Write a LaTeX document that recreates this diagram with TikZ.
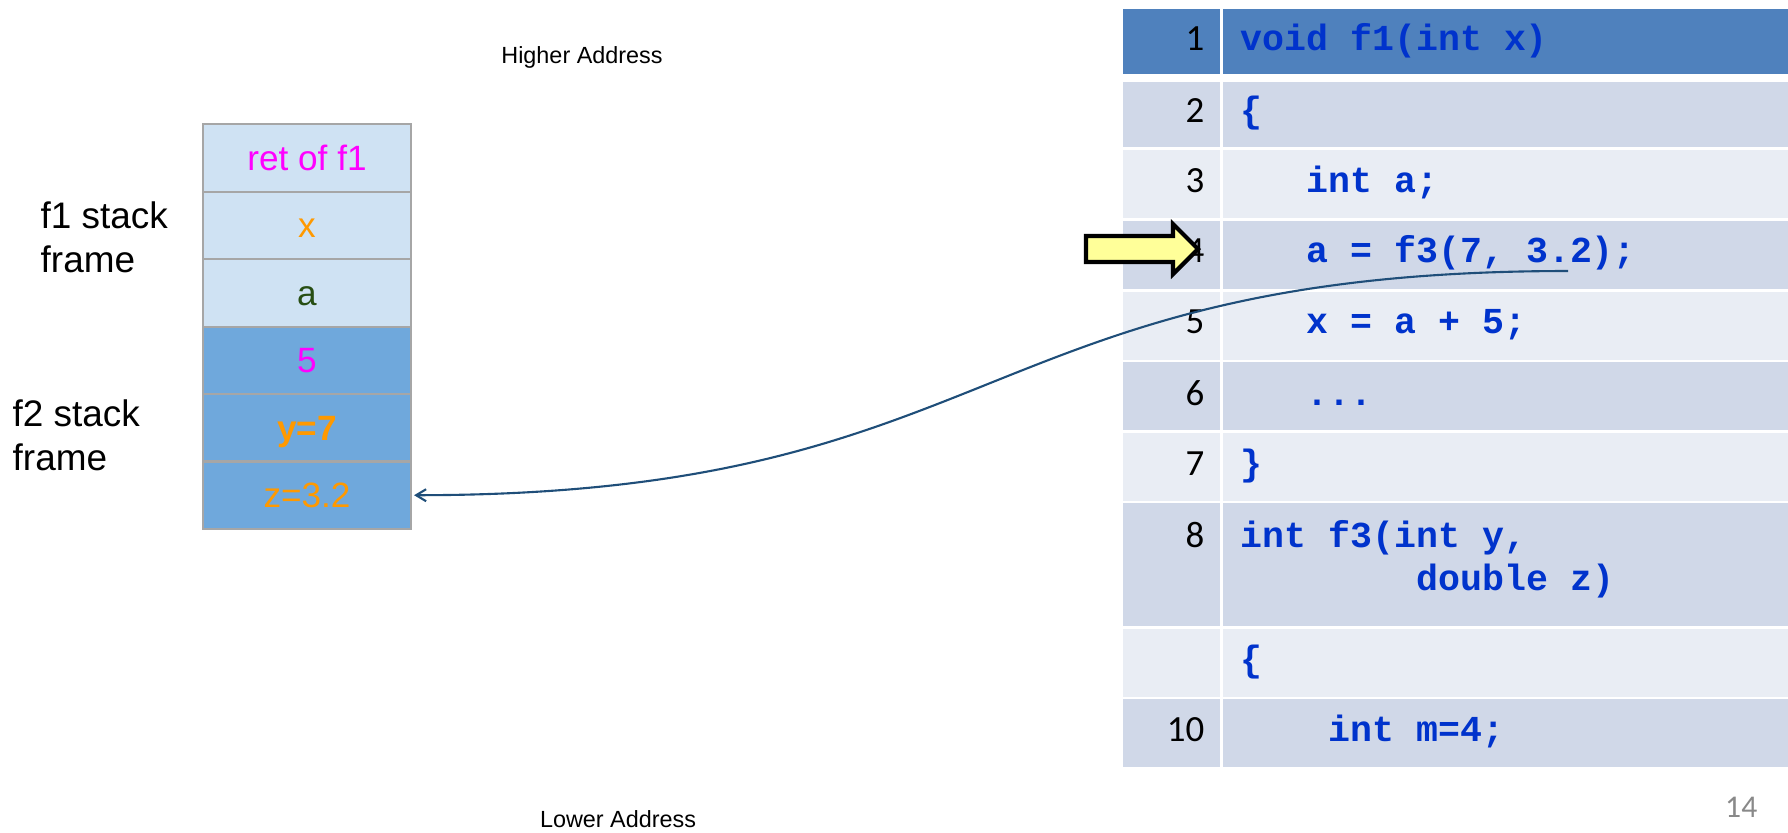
\documentclass[tikz,border=0pt]{standalone}
\usepackage{fontspec}
\setmainfont{Liberation Sans}
\newfontfamily\codefont{Liberation Mono}
\newfontfamily\numfont{Carlito}
\usetikzlibrary{arrows.meta, positioning}
\definecolor{hdr}{HTML}{4F81BD}
\definecolor{rowd}{HTML}{D0D8E8}
\definecolor{rowl}{HTML}{E9EDF4}
\definecolor{codeblue}{HTML}{0033CC}
\definecolor{stkl}{HTML}{CFE2F3}
\definecolor{stkd}{HTML}{6FA8DC}
\definecolor{stkb}{HTML}{A6A6A6}
\definecolor{mag}{HTML}{FF00FF}
\definecolor{org}{HTML}{FF9900}
\definecolor{grn}{HTML}{274E13}
\definecolor{curv}{HTML}{1F4E79}
\definecolor{yelfill}{HTML}{FFFF99}
\definecolor{pgray}{HTML}{898989}
\tikzset{%
    stk/.style={rectangle, draw=stkb, line width=0.6pt, minimum width=2.08cm, minimum height=0.674cm, inner sep=0pt, outer sep=0pt, text height=0.7em, text depth=0pt, font=\fontsize{10}{12}\selectfont},
    lab/.style={align=left, inner sep=0pt, font=\fontsize{10.5}{12.5}\selectfont},
    adr/.style={inner sep=0pt, font=\fontsize{6.65}{8}\selectfont},
    num/.style={anchor=base east, inner sep=0pt, font=\numfont\fontsize{10.5}{12}\selectfont},
    cod/.style={anchor=base west, inner sep=0pt, text=codeblue, font=\codefont\bfseries\fontsize{10.4}{12.3}\selectfont},
    cura/.style={line width=0.6pt, draw=curv, -{Straight Barb[length=1mm,width=1.2mm]}},
    yela/.style={line width=1.2pt, fill=yelfill, line join=miter},
}
\begin{document}
\begin{tikzpicture}[x=0.01cm, y=-0.01cm]
    \useasboundingbox (0,0) rectangle (1788,832);
    % code table
    \fill [hdr] (1123,9) rectangle (1788,74);
    \fill [rowd] (1123,82) rectangle (1788,147);
    \fill [rowl] (1123,150) rectangle (1788,218);
    \fill [rowd] (1123,221) rectangle (1788,289);
    \fill [rowl] (1123,292) rectangle (1788,360);
    \fill [rowd] (1123,362) rectangle (1788,430);
    \fill [rowl] (1123,433) rectangle (1788,501);
    \fill [rowd] (1123,503) rectangle (1788,626);
    \fill [rowl] (1123,629) rectangle (1788,697);
    \fill [rowd] (1123,699) rectangle (1788,767);
    \draw [white, line width=0.85pt] (1221.5,9) -- (1221.5,767);
    \node[num] (n1) at (1205,50) {1};
    \node[num] (n2) at (1205,122) {2};
    \node[num] (n3) at (1205,192) {3};
    \node[num] (n4) at (1205,262) {4};
    \node[num] (n5) at (1205,333) {5};
    \node[num] (n6) at (1205,405) {6};
    \node[num] (n7) at (1205,475) {7};
    \node[num] (n8) at (1205,547) {8};
    \node[num] (n10) at (1205,741) {10};
    \node[cod] (c1) at (1240,50) {void f1(int x)};
    \node[cod] (c2) at (1240,122) {\{};
    \node[cod] (c3) at (1306,192) {int a;};
    \node[cod] (c4) at (1306,262) {a = f3(7, 3.2);};
    \node[cod] (c5) at (1306,333) {x = a + 5;};
    \node[cod] (c6) at (1306,405) {...};
    \node[cod] (c7) at (1240,475) {\}};
    \node[cod] (c8) at (1240,547) {int f3(int y,};
    \node[cod] (c8b) at (1416,590) {double z)};
    \node[cod] (c9) at (1240,671) {\{};
    \node[cod] (c10) at (1328,741) {int m=4;};
    \node[num, text=pgray, font=\numfont\fontsize{9}{11}\selectfont] (pg) at (1758,817) {14};
    % stack
    \node[stk, fill=stkl, text=mag] (ret) at (307,158) {ret of f1};
    \node[stk, fill=stkl, text=org, below=0pt of ret] (sx) {x};
    \node[stk, fill=stkl, text=grn, below=0pt of sx] (sa) {a};
    \node[stk, fill=stkd, text=mag, below=0pt of sa] (s5) {5};
    \node[stk, fill=stkd, text=org, below=0pt of s5] (sy) {\bfseries y=7};
    \node[stk, fill=stkd, text=org, below=0pt of sy] (sz) {z=3.2};
    \node[lab, anchor=base west] (f1lab) at (40,272) {f1 stack\\frame};
    \node[lab, anchor=base west] (f2lab) at (12,470) {f2 stack\\frame};
    \node[adr, anchor=base] (hi) at (582,63) {Higher Address};
    \node[adr, anchor=base] (lo) at (618,827) {Lower Address};
    % call
    \coordinate (call) at (1568,271);
    \draw [cura, shorten >=0.3mm] (call) .. controls (973,271) and (1006,495) .. (sz.east);
    \draw [yela] (1086,236) -- (1173,236) -- (1173,224) -- (1198,249) -- (1173,274) -- (1173,262) -- (1086,262) -- cycle;
\end{tikzpicture}
\end{document}
